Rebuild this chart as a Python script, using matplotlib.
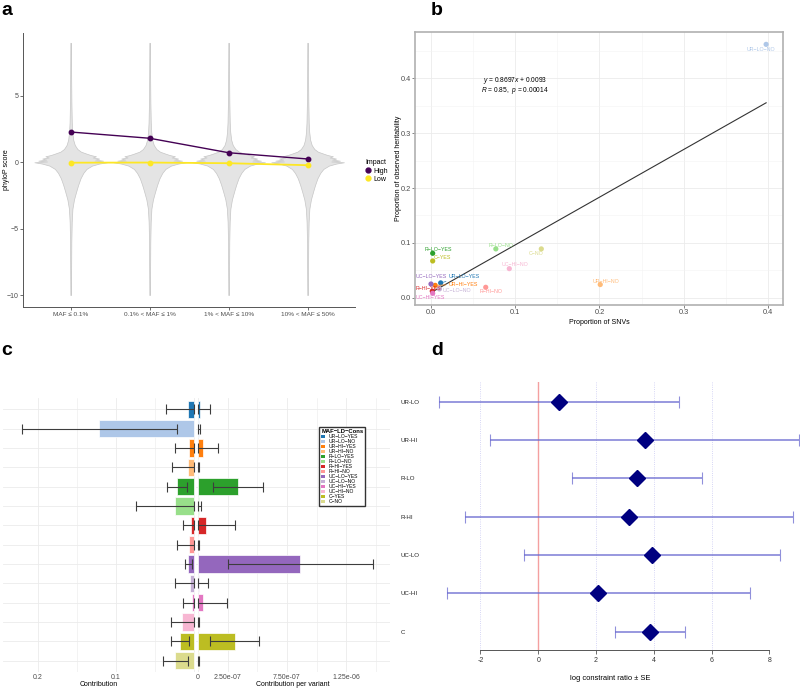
import numpy as np
import matplotlib
matplotlib.use("Agg")
import matplotlib.pyplot as plt
from matplotlib.patches import Patch
from matplotlib.lines import Line2D

plt.rcParams['font.family'] = ['Liberation Sans', 'DejaVu Sans']
plt.rcParams['mathtext.fontset'] = 'custom'
plt.rcParams['mathtext.rm'] = 'Liberation Sans'
plt.rcParams['mathtext.it'] = 'Liberation Sans:italic'

W, H = 800, 688

# ---------------- data ----------------
# a: phyloP by MAF bin
maf_bins = ["MAF ≤ 0.1%", "0.1% < MAF ≤ 1%", "1% < MAF ≤ 10%", "10% < MAF ≤ 50%"]
impact_high = [2.28, 1.81, 0.72, 0.25]
impact_low = [-0.03, -0.02, -0.07, -0.22]
# violin outline (phyloP value, half width)
violin_y = [-10.0, -8.0, -6.0, -4.5, -3.5, -2.8, -2.2, -1.7, -1.2, -0.8, -0.5, -0.25, -0.1,
            0.0, 0.06, 0.12, 0.2, 0.28, 0.36, 0.45, 0.55, 0.65, 0.8, 1.0, 1.3, 1.7, 2.3,
            3.0, 4.5, 6.5, 9.0]
violin_w = [0.004, 0.006, 0.008, 0.013, 0.022, 0.042, 0.07, 0.095, 0.125, 0.16, 0.2, 0.27, 0.36,
            0.46, 0.3, 0.41, 0.31, 0.36, 0.28, 0.32, 0.25, 0.2, 0.13, 0.085, 0.052, 0.032, 0.02,
            0.014, 0.009, 0.006, 0.004]

# b: heritability vs SNV proportion
groups = ["UR-LO-YES", "UR-LO-NO", "UR-HI-YES", "UR-HI-NO", "R-LO-YES", "R-LO-NO",
          "R-HI-YES", "R-HI-NO", "UC-LO-YES", "UC-LO-NO", "UC-HI-YES", "UC-HI-NO",
          "C-YES", "C-NO"]
snv_prop = [0.0115, 0.398, 0.005, 0.201, 0.002, 0.077, 0.0015, 0.065, 0.0, 0.010,
            0.002, 0.093, 0.002, 0.131]
h2_prop = [0.027, 0.462, 0.0225, 0.024, 0.081, 0.089, 0.012, 0.019, 0.025, 0.016,
           0.008, 0.053, 0.067, 0.089]
fit_slope, fit_intercept = 0.8697, 0.0093
fit_r, fit_p = 0.85, 0.00014

# c: contribution and contribution per variant
contrib = [0.0068, 0.1212, 0.0064, 0.0068, 0.0212, 0.0233, 0.0030, 0.0055, 0.0068,
           0.0042, 0.0025, 0.0144, 0.0178, 0.0233]
contrib_se = [0.0284, 0.0994, 0.0170, 0.0207, 0.0129, 0.0500, 0.0101, 0.0161, 0.0047,
              0.0200, 0.0106, 0.0153, 0.0119, 0.0161]
per_var = [1.7e-08, 8e-09, 3.9e-08, 3e-09, 3.38e-07, 8e-09, 6.5e-08, 3e-09, 8.61e-07,
           1.1e-08, 3.9e-08, 6e-09, 3.09e-07, 6e-09]
per_var_se = [8.7e-08, 5e-09, 1.27e-07, 3e-09, 2.08e-07, 2e-08, 2.45e-07, 4e-09, 6.12e-07,
              7.3e-08, 2.09e-07, 5e-09, 2.08e-07, 4e-09]

# d: constraint ratio
d_groups = ["UR-LO", "UR-HI", "R-LO", "R-HI", "UC-LO", "UC-HI", "C"]
log_ratio = [0.72, 3.68, 3.42, 3.15, 3.94, 2.08, 3.87]
log_ratio_se = [4.15, 5.34, 2.26, 5.67, 4.42, 5.25, 1.20]

colors = ['#1f77b4', '#aec7e8', '#ff7f0e', '#ffbb78', '#2ca02c', '#98df8a', '#d62728',
          '#ff9896', '#9467bd', '#c5b0d5', '#e377c2', '#f7b6d2', '#bcbd22', '#dbdb8d']


def box(l, t, r, b):
    return [l / W, 1 - b / H, (r - l) / W, (b - t) / H]


fig = plt.figure(figsize=(W / 100, H / 100), dpi=100)
tick_col = '#4d4d4d'
title_fs = 5.0

# ---------------- a ----------------
ax = fig.add_axes(box(23.3, 33, 355, 306.7))
xs = np.arange(1, len(maf_bins) + 1)
vw = np.array(violin_w)
for x in xs:
    ax.fill_betweenx(violin_y, x - vw, x + vw, facecolor='#e4e4e4', edgecolor='#c6c6c6',
                     lw=0.5, zorder=1)
ax.plot(xs, impact_high, '-o', color='#440154', lw=1.0, ms=3.2, zorder=3)
ax.plot(xs, impact_low, '-o', color='#fde725', lw=1.3, ms=3.2, zorder=3)
ax.set_xlim(0.4, 4.6)
ax.set_ylim(-10.88, 9.74)
ax.set_xticks(xs, maf_bins)
ax.set_yticks([-10, -5, 0, 5])
for s in ['top', 'right']:
    ax.spines[s].set_visible(False)
for s in ['left', 'bottom']:
    ax.spines[s].set_color('#555555')
    ax.spines[s].set_linewidth(0.7)
ax.tick_params(labelsize=4.6, colors='#555555', labelcolor=tick_col, length=2, width=0.6, pad=1.5)
ax.tick_params(axis='y', labelsize=5.0)
ax.set_ylabel('phyloP score', fontsize=title_fs)
ax.yaxis.set_label_coords((9.5 - 23.3) / 331.7, 0.5)

leg_a = fig.legend(handles=[Line2D([], [], marker='o', ls='', color='#440154', ms=3.5),
                            Line2D([], [], marker='o', ls='', color='#fde725', ms=3.5)],
                   labels=['High', 'Low'], title='Impact', loc='upper left',
                   bbox_to_anchor=(362 / W, 1 - 156 / H), frameon=False, fontsize=5.0,
                   title_fontsize=5.0, alignment='left', handlelength=0.7,
                   handletextpad=0.5, labelspacing=0.15, borderpad=0)

# ---------------- b ----------------
bx = fig.add_axes(box(415, 32.3, 783.3, 305))
bx.set_xlim(-0.019, 0.4184)
bx.set_ylim(-0.0133, 0.484)
bx.set_xticks(np.arange(0, 0.41, 0.1))
bx.set_yticks(np.arange(0, 0.41, 0.1))
bx.set_xticks(np.arange(0.05, 0.42, 0.1), minor=True)
bx.set_yticks(np.arange(0.05, 0.48, 0.1), minor=True)
bx.grid(which='major', color='#ebebeb', lw=0.6)
bx.grid(which='minor', color='#f3f3f3', lw=0.4)
bx.set_axisbelow(True)
xx = np.array([min(snv_prop), max(snv_prop)])
bx.plot(xx, fit_slope * xx + fit_intercept, color='#333333', lw=0.8, zorder=2)
bx.scatter(snv_prop, h2_prop, c=colors, s=14, zorder=3, linewidths=0)
lab_off = {"UR-LO-NO": (-5, -5), "R-LO-YES": (6, 3.6), "C-YES": (10, 3.3),
           "R-LO-NO": (5.7, 3.7), "C-NO": (-5, -4.3), "UC-HI-NO": (6, 3.7),
           "UR-HI-NO": (5.3, 3.3), "R-HI-NO": (5.7, -4), "UC-LO-YES": (0.7, 7.3),
           "UR-LO-YES": (23.7, 6.3), "UR-HI-YES": (28, 1.3), "UC-LO-NO": (17.4, -2),
           "R-HI-YES": (-4, 2.3), "UC-HI-YES": (-2, -4)}
for g, x, y, c in zip(groups, snv_prop, h2_prop, colors):
    dx, dy = lab_off[g]
    arrow = dict(arrowstyle='-', color=c, lw=0.5, shrinkA=0, shrinkB=2) if abs(dx) > 20 else None
    bx.annotate(g.replace('-', '−'), (x, y), xytext=(dx, dy), textcoords='offset pixels',
                ha='center', va='center', color=c, fontsize=3.8, arrowprops=arrow, zorder=4)
bx.text(0.0998, 0.396, r'$y$ = %.4f$x$ + %.4f' % (fit_slope, fit_intercept),
        ha='center', va='center', fontsize=4.8)
bx.text(0.0998, 0.3775, r'$R$ = %.2f,  $p$ = %.5f' % (fit_r, fit_p),
        ha='center', va='center', fontsize=4.8)
for s in bx.spines.values():
    s.set_color('#b0b0b0')
    s.set_linewidth(1.2)
bx.tick_params(labelsize=5.3, colors='#555555', labelcolor=tick_col, length=2, width=0.5, pad=1)
bx.tick_params(which='minor', length=0)
bx.set_xlabel('Proportion of SNVs', fontsize=title_fs, labelpad=2)
bx.set_ylabel('Proportion of observed heritability', fontsize=title_fs)
bx.yaxis.set_label_coords((402 - 415) / 368.3, 0.5)

# ---------------- c ----------------
rows = np.arange(len(groups))
cl = fig.add_axes(box(3.3, 398, 195, 672.3))
cr = fig.add_axes(box(196, 398, 390, 672.3))
ctr = np.array(contrib)
cse = np.array(contrib_se)
pv = np.array(per_var)
pvse = np.array(per_var_se)
for axc, val, se in [(cl, ctr, cse), (cr, pv, pvse)]:
    axc.barh(rows, val, height=0.9, color=colors, edgecolor='white', lw=0.5, zorder=2)
    lo = np.clip(val - se, 0, None)
    hi = val + se
    axc.errorbar(val, rows, xerr=[val - lo, hi - val], fmt='none', ecolor='#3d3d3d',
                 elinewidth=0.8, capsize=3.5, capthick=0.8, zorder=3)
    axc.set_ylim(13.6, -0.58)
    axc.set_yticks(rows, [''] * len(rows))
    axc.grid(which='major', color='#ebebeb', lw=0.6, zorder=0)
    axc.grid(which='minor', axis='x', color='#ebebeb', lw=0.4, zorder=0)
    axc.set_axisbelow(True)
    for s in axc.spines.values():
        s.set_visible(False)
    axc.tick_params(which='both', length=0, labelsize=5.0, labelcolor=tick_col, pad=1)
cl.set_xlim(0.244, -0.0017)
cl.set_xticks([0.2, 0.1, 0], ['0.2', '0.1', ''])
cl.set_xticks([0.15, 0.05], minor=True)
cl.set_xlabel('Contribution', fontsize=title_fs, labelpad=0)
cr.set_xlim(-1.7e-8, 1.62e-6)
cr.set_xticks([0, 2.5e-7, 7.5e-7, 1.25e-6], ['0', '2.50e-07', '7.50e-07', '1.25e-06'])
cr.set_xticks([5e-7, 1e-6, 1.5e-6], minor=True)
cr.set_xlabel('Contribution per variant', fontsize=title_fs, labelpad=0)
leg_c = cr.legend(handles=[Patch(facecolor=c, edgecolor='none', label=g.replace('-', '−'))
                           for g, c in zip(groups, colors)],
                  title='MAF−LD−Cons', loc='upper left', bbox_to_anchor=(319.3 / W, 1 - 427.3 / H),
                  bbox_transform=fig.transFigure, fontsize=3.6,
                  title_fontproperties={'weight': 'bold', 'size': 4.2},
                  labelspacing=0.0, handlelength=0.8, handleheight=0.8, handletextpad=0.6,
                  borderpad=0.4, borderaxespad=0, fancybox=False, framealpha=1,
                  edgecolor='#333333', alignment='left')
leg_c.get_frame().set_linewidth(1.0)

# ---------------- d ----------------
dx_ = fig.add_axes(box(420, 381.7, 800, 650))
yd = np.arange(1, len(d_groups) + 1)
for v in [-2, 2, 4, 6]:
    dx_.axvline(v, color='#c8c8f2', ls=':', lw=0.6, zorder=0)
dx_.axvline(0, color='#f4a0a0', lw=1.0, zorder=1)
dx_.errorbar(log_ratio, yd, xerr=log_ratio_se, fmt='none', ecolor='#6b6bd0', alpha=0.75,
             elinewidth=1.3, capsize=4, capthick=0.8, zorder=2)
dx_.plot(log_ratio, yd, 'D', color='#000080', ms=8.5, zorder=3)
dx_.set_xlim(-4.09, 9.06)
dx_.set_ylim(7.478, 0.478)
dx_.set_xticks(np.arange(-2, 9, 2), ['-2', '0', '2', '4', '6', '8'])
dx_.set_yticks(yd, d_groups)
for lab in dx_.get_yticklabels():
    lab.set_ha('left')
for s in ['top', 'right', 'left']:
    dx_.spines[s].set_visible(False)
dx_.spines['bottom'].set_bounds(-2, 8)
dx_.spines['bottom'].set_color('#555555')
dx_.spines['bottom'].set_linewidth(0.7)
dx_.tick_params(axis='x', labelsize=5.0, colors='#555555', labelcolor='#333333', length=3, width=0.6, pad=2)
dx_.tick_params(axis='y', labelsize=4.4, length=0, pad=13.7, labelcolor='#222222')
dx_.set_xlabel('log constraint ratio ± SE', fontsize=5.4, labelpad=8)

# panel letters
for t, x, y in [('a', 1, 15), ('b', 431, 15), ('c', 1, 355), ('d', 431, 355)]:
    fig.text(x / W, 1 - y / H, t, fontsize=14, fontweight='bold', ha='left', va='baseline')

fig.savefig('out.png', dpi=100)
